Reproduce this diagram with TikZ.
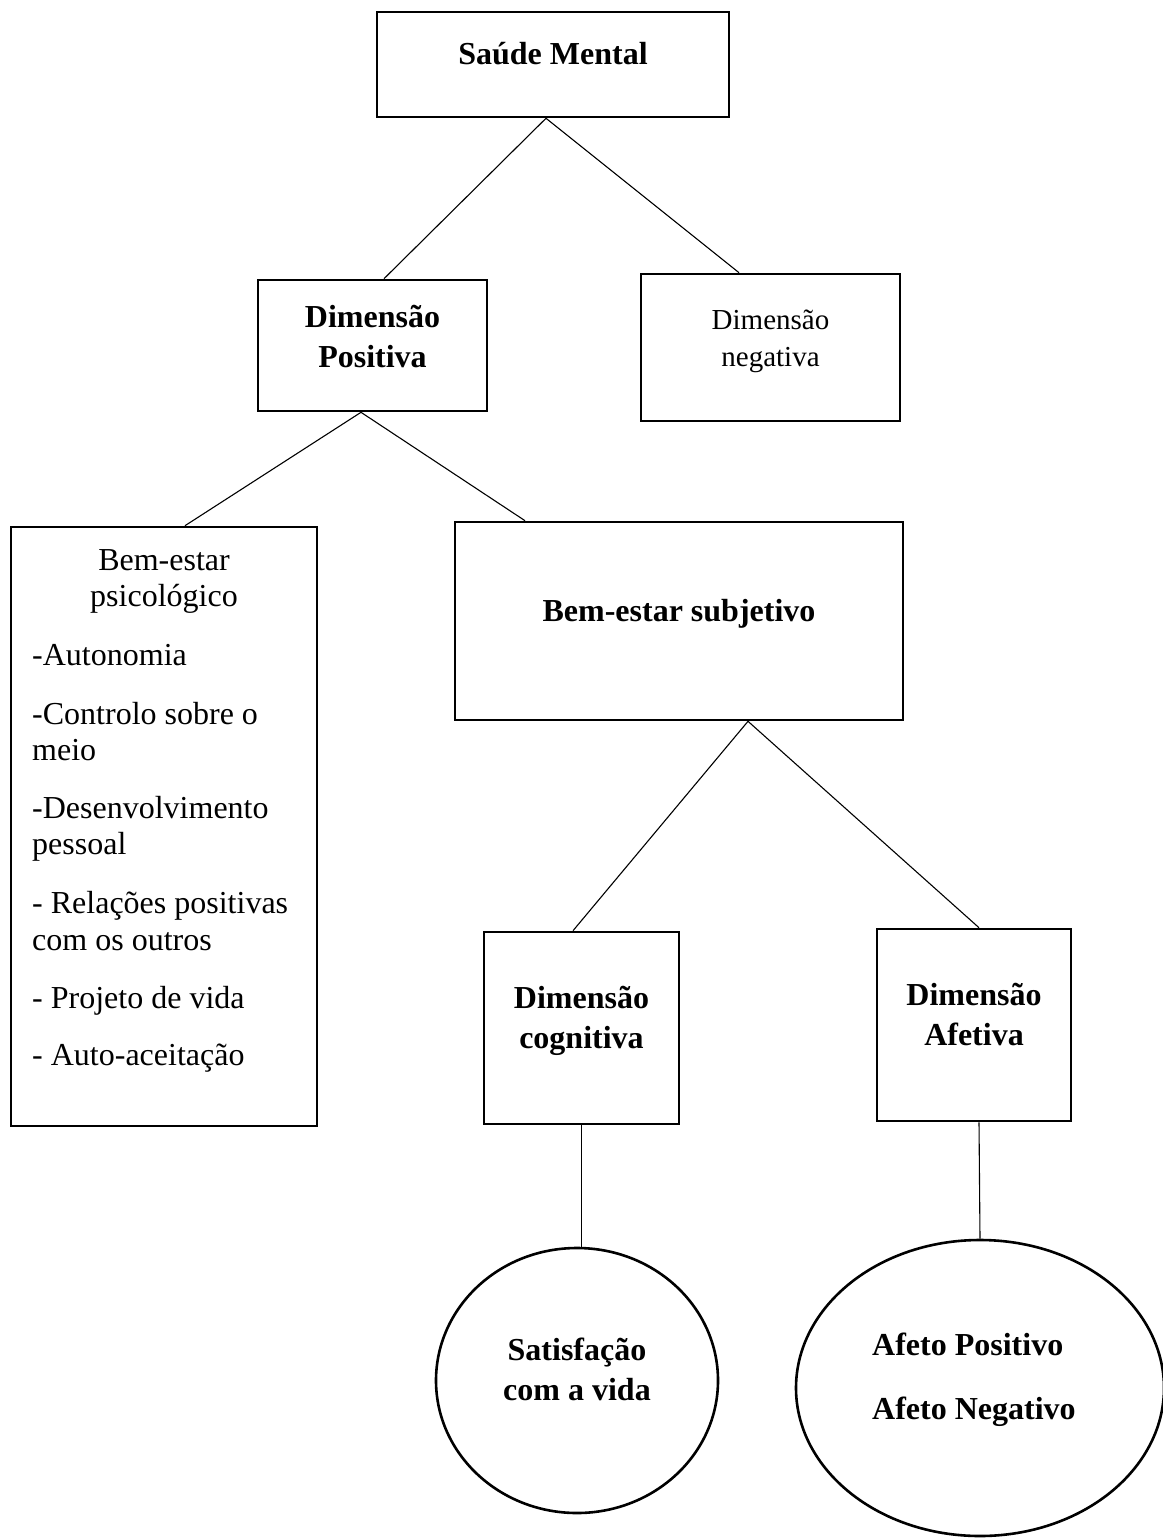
\documentclass[tikz,border=0pt]{standalone}
\usepackage{fontspec}
\setmainfont{Liberation Serif}
\usetikzlibrary{shapes.geometric}
\begin{document}
\begin{tikzpicture}[x=1pt,y=-1pt,
  boxnode/.style={draw=black,line width=2.6pt,inner sep=0pt,rectangle},
  ellnode/.style={draw=black,line width=2.6pt,inner sep=0pt,ellipse},
  btext/.style={inner sep=0pt,anchor=base,font=\fontsize{32}{38}\selectfont\bfseries},
  rtext/.style={inner sep=0pt,anchor=base,font=\fontsize{32}{38}\selectfont},
  stext/.style={inner sep=0pt,anchor=base,font=\fontsize{29}{34}\selectfont},
  conn/.style={draw=black,line width=1.1pt}]
\useasboundingbox (0,0) rectangle (1162,1538);
% boxes
\node[boxnode,minimum width=352pt,minimum height=105pt] (sm) at (553,64.5) {};
\node[boxnode,minimum width=229pt,minimum height=131pt] (dp) at (372.5,345.5) {};
\node[boxnode,minimum width=259pt,minimum height=147pt] (dn) at (770.5,347.5) {};
\node[boxnode,minimum width=306pt,minimum height=599pt] (bp) at (164,826.5) {};
\node[boxnode,minimum width=448pt,minimum height=198pt] (bs) at (679,621) {};
\node[boxnode,minimum width=195pt,minimum height=192pt] (dc) at (581.5,1028) {};
\node[boxnode,minimum width=194pt,minimum height=192pt] (da) at (974,1025) {};
\node[ellnode,minimum width=282pt,minimum height=265pt] (e1) at (577,1380.5) {};
\node[ellnode,minimum width=368pt,minimum height=296pt] (e2) at (980,1388) {};
% texts
\node[btext] (smt) at (553,65) {Saúde Mental};
\node[btext] (dpt1) at (372.5,327) {Dimensão};
\node[btext] (dpt2) at (372.5,367) {Positiva};
\node[stext] (dnt1) at (770.5,329) {Dimensão};
\node[stext] (dnt2) at (770.5,366) {negativa};
\node[btext] (bst) at (679,621) {Bem-estar subjetivo};
\node[rtext] (bpt1) at (164,570) {Bem-estar};
\node[rtext] (bpt2) at (164,606) {psicológico};
\node[rtext,anchor=base west] (bpl1) at (32,665) {-Autonomia};
\node[rtext,anchor=base west] (bpl2) at (32,724) {-Controlo sobre o};
\node[rtext,anchor=base west] (bpl3) at (32,760) {meio};
\node[rtext,anchor=base west] (bpl4) at (32,818) {-Desenvolvimento};
\node[rtext,anchor=base west] (bpl5) at (32,854) {pessoal};
\node[rtext,anchor=base west] (bpl6) at (32,913) {- Relações positivas};
\node[rtext,anchor=base west] (bpl7) at (32,950) {com os outros};
\node[rtext,anchor=base west] (bpl8) at (32,1008) {- Projeto de vida};
\node[rtext,anchor=base west] (bpl9) at (32,1065) {- Auto-aceitação};
\node[btext] (dct1) at (581.5,1008) {Dimensão};
\node[btext] (dct2) at (581.5,1048) {cognitiva};
\node[btext] (dat1) at (974,1005) {Dimensão};
\node[btext] (dat2) at (974,1045) {Afetiva};
\node[btext] (e1t1) at (577,1360) {Satisfação};
\node[btext] (e1t2) at (577,1400) {com a vida};
\node[btext,anchor=base west] (e2t1) at (872,1355) {Afeto Positivo};
\node[btext,anchor=base west] (e2t2) at (872,1419) {Afeto Negativo};
% connectors
\draw[conn] ([xshift=-7pt]sm.south) -- ([xshift=11.5pt]dp.north);
\draw[conn] ([xshift=-7pt]sm.south) -- ([xshift=-31.5pt]dn.north);
\draw[conn] ([xshift=-11.5pt]dp.south) -- ([xshift=21pt]bp.north);
\draw[conn] ([xshift=-11.5pt]dp.south) -- ([xshift=-154pt]bs.north);
\draw[conn] ([xshift=69pt]bs.south) -- ([xshift=-8.5pt]dc.north);
\draw[conn] ([xshift=69pt]bs.south) -- ([xshift=5pt]da.north);
\draw[conn] (dc.south) -- (dc.south |- e1.north);
\draw[conn] ([xshift=5pt]da.south) -- (e2.north);
\end{tikzpicture}
\end{document}
